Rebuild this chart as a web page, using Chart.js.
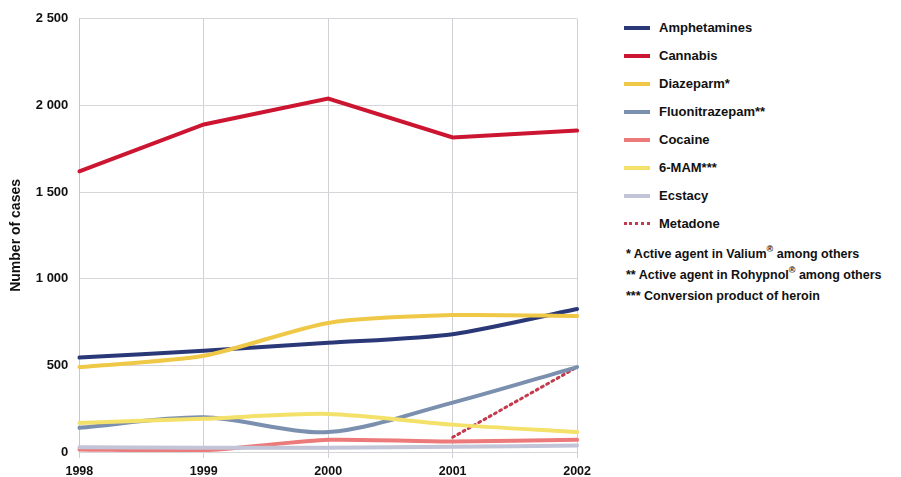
<!DOCTYPE html>
<html>
<head>
<meta charset="utf-8">
<script src="https://cdn.jsdelivr.net/npm/chart.js@4.4.1/dist/chart.umd.min.js"></script>
<style>
  html,body{margin:0;padding:0;background:#fff;}
  body{width:901px;height:477px;position:relative;overflow:hidden;font-family:"Liberation Sans",Arial,sans-serif;}
  #wrap{position:absolute;left:0;top:0;width:597px;height:487px;}
  #legend{position:absolute;left:624px;top:0;font-weight:bold;font-size:13px;color:#111;}
  .item{position:absolute;left:0;height:16px;white-space:nowrap;}
  .sw{position:absolute;left:0;top:6px;width:26px;height:0;border-top:4px solid;}
  .lt{position:absolute;left:35px;top:0;line-height:16px;}
  .note{position:absolute;left:2px;white-space:nowrap;line-height:16px;font-size:12.5px;}
  sup{font-size:9px;vertical-align:6px;line-height:0;}
</style>
</head>
<body>
<div id="wrap"><canvas id="c"></canvas></div>
<div id="legend"></div>
<script>
const years = ["1998","1999","2000","2001","2002"];
const seriesNames = ["Amphetamines","Cannabis","Diazeparm*","Fluonitrazepam**","Cocaine","6-MAM***","Ecstacy","Metadone"];
const amphetamines = [545, 585, 630, 680, 825];
const cannabis = [1620, 1890, 2040, 1815, 1855];
const diazeparm = [490, 555, 745, 790, 785];
const fluonitrazepam = [140, 200, 115, 285, 490];
const cocaine = [15, 10, 70, 60, 70];
const mam6 = [168, 192, 220, 158, 115];
const ecstacy = [28, 25, 25, 30, 38];
const metadone = [null, null, null, 85, 490];
const yTicks = [0, 500, 1000, 1500, 2000, 2500];
const footnotes = ["* Active agent in Valium<sup>®</sup> among others","** Active agent in Rohypnol<sup>®</sup> among others","*** Conversion product of heroin"];

const colors = ["#2b3878","#cc1531","#f0c848","#7b8fae","#ec7a7a","#f3e16a","#c2c4d8","#c23a4c"];
const values = [amphetamines,cannabis,diazeparm,fluonitrazepam,cocaine,mam6,ecstacy,metadone];
const tensions = [0.25,0,0.25,0.3,0.2,0.25,0.2,0];

// drawing order: back to front
const order = [6,4,5,3,2,0,1,7];
const datasets = order.map(i => ({
  label: seriesNames[i],
  data: values[i],
  borderColor: colors[i],
  backgroundColor: colors[i],
  borderWidth: i===7 ? 3 : 4,
  borderDash: i===7 ? [2,4] : [],
  borderCapStyle: 'round',
  pointRadius: 0,
  tension: tensions[i],
  spanGaps: false,
  fill: false
}));

new Chart(document.getElementById('c'), {
  type: 'line',
  data: { labels: years, datasets },
  options: {
    responsive: true,
    maintainAspectRatio: false,
    animation: false,
    layout: { padding: { top: 16, right: 0, left: 8, bottom: 2 } },
    plugins: { legend: { display: false }, tooltip: { enabled: false } },
    scales: {
      x: {
        offset: false,
        grid: { color: '#cfcfd4', lineWidth: 1, drawTicks: true, tickLength: 6 },
        border: { display: false },
        ticks: { color: '#111', font: { family: '"Liberation Sans", Arial', size: 12.5, weight: 'bold' }, padding: 6, maxRotation: 0 }
      },
      y: {
        min: 0, max: 2500,
        afterBuildTicks: (s) => { s.ticks = yTicks.map(v => ({ value: v })); },
        grid: { color: '#d6d6da', lineWidth: 1, drawTicks: false },
        border: { display: true, color: '#c8c8cc' },
        ticks: {
          color: '#111', padding: 11,
          font: { family: '"Liberation Sans", Arial', size: 13, weight: 'bold' },
          callback: (v) => String(v).replace(/\B(?=(\d{3})+(?!\d))/g, ' ')
        },
        title: { display: true, text: 'Number of cases', color: '#111', padding: { top: 0, bottom: 0 },
          font: { family: '"Liberation Sans", Arial', size: 14, weight: 'bold' } }
      }
    }
  }
});

// HTML legend
const lg = document.getElementById('legend');
const rowY = [20, 48, 76, 104, 132, 160, 188, 216];
seriesNames.forEach((n, i) => {
  const d = document.createElement('div');
  d.className = 'item';
  d.style.top = rowY[i] + 'px';
  const sw = document.createElement('div');
  sw.className = 'sw';
  if (i === 7) { sw.style.borderTop = '3px dotted ' + colors[i]; }
  else { sw.style.borderTopColor = colors[i]; }
  const t = document.createElement('div');
  t.className = 'lt';
  t.textContent = n;
  d.appendChild(sw); d.appendChild(t);
  lg.appendChild(d);
});
const noteY = [246, 267, 288];
footnotes.forEach((f, i) => {
  const d = document.createElement('div');
  d.className = 'note';
  d.style.top = noteY[i] + 'px';
  d.innerHTML = f;
  lg.appendChild(d);
});
</script>
</body>
</html>
